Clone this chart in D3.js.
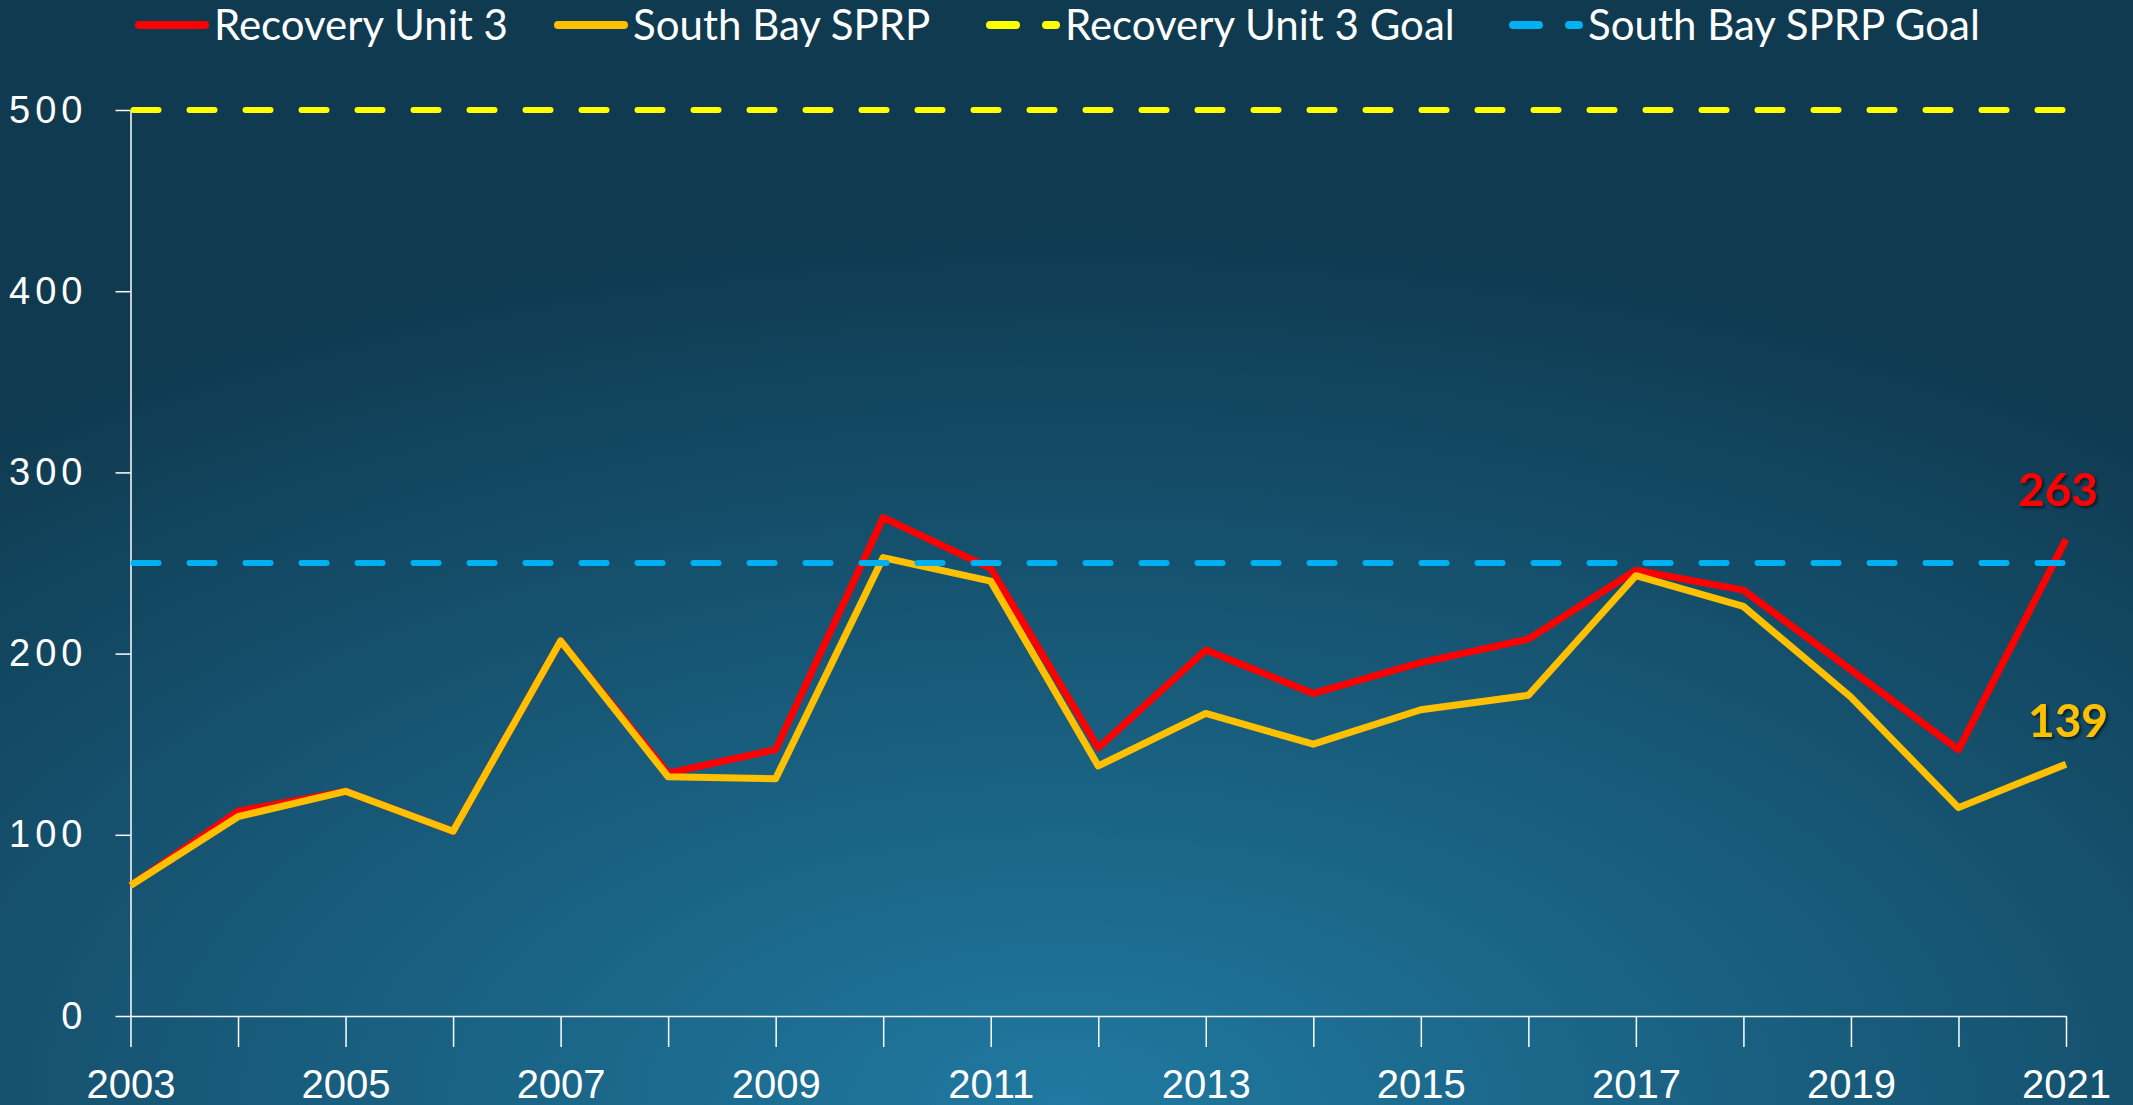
<!DOCTYPE html>
<meta charset="utf-8">
<style>
html, body { margin: 0; padding: 0; overflow: hidden; }
svg { display: block; font-family: Lato, "Open Sans", sans-serif; }
</style>
<svg width="2133" height="1105"></svg>
<script src="https://d3js.org/d3.v7.min.js"></script>
<script>

var years = [2003, 2004, 2005, 2006, 2007, 2008, 2009, 2010, 2011, 2012,
             2013, 2014, 2015, 2016, 2017, 2018, 2019, 2020, 2021];
var recoveryUnit3 = [72, 113, 124, 102, 207, 134, 147, 275, 247, 148,
                     202, 178, 195, 208, 246, 235, 191, 147, 263];
var southBaySPRP = [72, 110, 124, 102, 207, 132, 131, 253, 240, 138,
                    167, 150, 169, 177, 243, 226, 176, 115, 139];
var recoveryGoal = 500,
    southBayGoal = 250;
var yTicks = [0, 100, 200, 300, 400, 500];
var legendNames = ["Recovery Unit 3", "South Bay SPRP", "Recovery Unit 3 Goal", "South Bay SPRP Goal"];

var svg = d3.select("svg"),
    width = +svg.attr("width"),
    height = +svg.attr("height");

var defs = svg.append("defs");
var bg = defs.append("radialGradient")
    .attr("id", "bg")
    .attr("cx", "50%").attr("cy", "100%").attr("r", "80%")
    .attr("gradientUnits", "objectBoundingBox");
bg.append("stop").attr("offset", "0%").attr("stop-color", "#2079a1");
bg.append("stop").attr("offset", "100%").attr("stop-color", "#0f3a50");

var shadow = defs.append("filter").attr("id", "shadow")
    .attr("x", "-20%").attr("y", "-20%").attr("width", "140%").attr("height", "140%");
shadow.append("feDropShadow")
    .attr("dx", 2).attr("dy", 2).attr("stdDeviation", 1.5)
    .attr("flood-color", "#000").attr("flood-opacity", 0.6);

svg.append("rect")
    .attr("width", width)
    .attr("height", height)
    .attr("fill", "url(#bg)");

var x = d3.scaleLinear().domain([2003, 2021]).range([130.5, 2066]),
    y = d3.scaleLinear().domain([0, 500]).range([1016, 110]);

// axes
var yAxis = svg.append("g")
    .attr("transform", "translate(" + x.range()[0] + ",0)")
    .call(d3.axisLeft(y).tickValues(yTicks).tickSize(15).tickSizeOuter(0).tickPadding(28));
yAxis.selectAll("text")
    .attr("fill", "#fff")
    .style("font-size", "38px")
    .style("letter-spacing", "5px");

var xAxis = svg.append("g")
    .attr("transform", "translate(0," + y(0) + ")")
    .call(d3.axisBottom(x).tickValues(years).tickSize(31).tickSizeOuter(0)
      .tickFormat(function(d) { return (d - 2003) % 2 === 0 ? d : ""; }));
xAxis.selectAll("text")
    .attr("fill", "#fff")
    .attr("y", 68)
    .attr("dy", "0.35em")
    .style("font-size", "40px");

svg.selectAll(".domain, .tick line")
    .attr("stroke", "#fff")
    .attr("stroke-width", 1.5);

// data lines
var line = d3.line()
    .x(function(d, i) { return x(years[i]); })
    .y(function(d) { return y(d); });

svg.append("path")
    .datum(recoveryUnit3)
    .attr("fill", "none")
    .attr("stroke", "#ff0000")
    .attr("stroke-width", 7)
    .attr("stroke-linejoin", "round")
    .attr("d", line);

svg.append("path")
    .datum(southBaySPRP)
    .attr("fill", "none")
    .attr("stroke", "#ffc000")
    .attr("stroke-width", 7)
    .attr("stroke-linejoin", "round")
    .attr("d", line);

// goal lines
var goals = [{v: recoveryGoal, c: "#ffff00"}, {v: southBayGoal, c: "#00b0f0"}];
svg.selectAll(".goal")
    .data(goals)
    .enter().append("line")
      .attr("class", "goal")
      .attr("x1", x(2003) + 3)
      .attr("x2", x(2021))
      .attr("y1", function(d) { return y(d.v); })
      .attr("y2", function(d) { return y(d.v); })
      .attr("stroke", function(d) { return d.c; })
      .attr("stroke-width", 6)
      .attr("stroke-linecap", "round")
      .attr("stroke-dasharray", "25,31");

// end labels
var last = years.length - 1;
svg.append("text")
    .attr("x", x(years[last]) - 8)
    .attr("y", y(recoveryUnit3[last]) - 50)
    .attr("dy", "0.35em")
    .attr("text-anchor", "middle")
    .attr("fill", "#ff0000")
    .attr("filter", "url(#shadow)")
    .style("font-size", "46px")
    .style("font-weight", "bold")
    .text(recoveryUnit3[last]);

svg.append("text")
    .attr("x", x(years[last]) + 2)
    .attr("y", y(southBaySPRP[last]) - 43)
    .attr("dy", "0.35em")
    .attr("text-anchor", "middle")
    .attr("fill", "#ffc000")
    .attr("filter", "url(#shadow)")
    .style("font-size", "46px")
    .style("font-weight", "bold")
    .text(southBaySPRP[last]);

// legend
var legendX = [135, 554, 986, 1509],
    legendColors = ["#ff0000", "#ffc000", "#ffff00", "#00b0f0"],
    legendDash = [null, null, "26,30", "26,30"];

var legend = svg.selectAll(".legend")
    .data(legendNames)
    .enter().append("g")
      .attr("class", "legend")
      .attr("transform", function(d, i) { return "translate(" + legendX[i] + ",25)"; });

legend.append("line")
    .attr("x1", 4).attr("x2", 70)
    .attr("stroke", function(d, i) { return legendColors[i]; })
    .attr("stroke-width", 8)
    .attr("stroke-linecap", "round")
    .attr("stroke-dasharray", function(d, i) { return legendDash[i]; });

legend.append("text")
    .attr("x", 79)
    .attr("dy", "0.35em")
    .attr("fill", "#fff")
    .style("font-size", "42px")
    .text(function(d) { return d; });

</script>
